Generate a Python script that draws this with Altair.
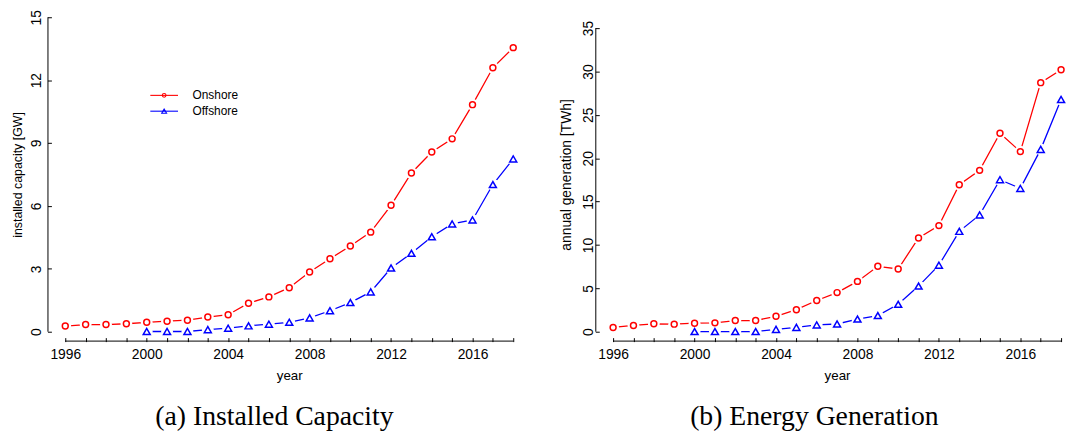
import altair as alt
import pandas as pd

# Series names and colours
SERIES = ["Onshore", "Offshore"]
COLORS = ["#ff0000", "#0000ff"]
SHAPES = ["circle", "triangle-up"]

years = list(range(1996, 2019))
offshore_years = list(range(2000, 2019))

# Installed capacity [GW]
capacity_onshore = [0.27, 0.34, 0.34, 0.38, 0.45, 0.50, 0.55, 0.70, 0.81, 1.36,
                    1.66, 2.10, 2.85, 3.48, 4.09, 4.75, 6.03, 7.57, 8.57, 9.20,
                    10.83, 12.59, 13.55]
capacity_offshore = [0.01, 0.01, 0.01, 0.10, 0.17, 0.28, 0.36, 0.45, 0.66, 1.00,
                     1.39, 1.90, 3.04, 3.74, 4.53, 5.14, 5.33, 7.02, 8.24]

# Annual generation [TWh]
generation_onshore = [0.49, 0.72, 0.91, 0.87, 0.98, 1.02, 1.29, 1.29, 1.78, 2.54,
                      3.60, 4.51, 5.80, 7.54, 7.23, 10.80, 12.23, 16.95, 18.60,
                      22.88, 20.76, 28.71, 30.19]
generation_offshore = [0.02, 0.02, 0.02, 0.02, 0.27, 0.50, 0.78, 0.89, 1.46, 1.86,
                       3.16, 5.26, 7.67, 11.57, 13.46, 17.52, 16.52, 21.02, 26.77]

capacity_ticks = [0, 3, 6, 9, 12, 15]
generation_ticks = [0, 5, 10, 15, 20, 25, 30, 35]

FONT = "Liberation Sans"
SERIF = "Liberation Serif"
PLOT_W = 453
PLOT_H = 318


def long_table(onshore, offshore):
    return pd.concat([
        pd.DataFrame({"year": years, "value": onshore, "series": "Onshore"}),
        pd.DataFrame({"year": offshore_years, "value": offshore, "series": "Offshore"}),
    ], ignore_index=True)


def panel(df, y_top, y_ticks, y_title, y_title_size, y_label_pad, y_title_pad,
          caption, caption_dx, with_legend=False):
    x_enc = alt.X(
        "year:Q",
        scale=alt.Scale(domain=[1996, 2018], nice=False, zero=False),
        axis=alt.Axis(values=years, format="d",
                      labelExpr="datum.value % 4 == 0 ? datum.label : ''",
                      domain=False, grid=False, offset=6, tickSize=4,
                      tickColor="black", tickWidth=1,
                      labelFontSize=14, labelPadding=6, labelOverlap=False,
                      labelFlush=False, labelColor="black",
                      title="year", titleFontSize=13.5, titleFontWeight="normal",
                      titleColor="black", titlePadding=7),
    )
    y_enc = alt.Y(
        "value:Q",
        scale=alt.Scale(domain=[0, y_top], nice=False, zero=True),
        axis=alt.Axis(values=y_ticks, format="d", domain=False, grid=False,
                      offset=14, tickSize=4, tickColor="black", tickWidth=1,
                      labelAngle=270, labelAlign="center",
                      labelBaseline="alphabetic", labelPadding=y_label_pad,
                      labelFontSize=14, labelColor="black", labelOverlap=False,
                      labelFlush=False,
                      title=y_title, titleFontSize=y_title_size,
                      titleFontWeight="normal", titleColor="black",
                      titlePadding=y_title_pad),
    )
    color = alt.Color("series:N", scale=alt.Scale(domain=SERIES, range=COLORS), legend=None)
    shape = alt.Shape("series:N", scale=alt.Scale(domain=SERIES, range=SHAPES), legend=None)
    size = alt.Size("series:N", scale=alt.Scale(domain=SERIES, range=[36, 50]), legend=None)

    base = alt.Chart(df)
    lines = base.mark_line(strokeWidth=1.3).encode(x=x_enc, y=y_enc, color=color)
    # white discs open a gap in the line around every marker
    halos = base.mark_circle(color="white", fill="white", opacity=1, size=144).encode(
        x=x_enc, y=y_enc)
    markers = base.mark_point(filled=False, strokeWidth=1.5, opacity=1).encode(
        x=x_enc, y=y_enc, color=color, shape=shape, size=size)

    # axis lines that run only between the first and last tick
    x_line = alt.Chart(pd.DataFrame({"year": [1996], "year_end": [2018]})).mark_rule(
        color="black", strokeWidth=1).encode(
        x=x_enc, x2="year_end", y=alt.value(PLOT_H + 9.5))
    y_line = alt.Chart(pd.DataFrame({"value": [0], "value_end": [y_ticks[-1]]})).mark_rule(
        color="black", strokeWidth=1).encode(
        x=alt.value(-17.5), y=y_enc, y2="value_end")

    layers = [x_line, y_line, lines, halos, markers]

    if with_legend:
        for i, name in enumerate(SERIES):
            row = pd.DataFrame({"series": [name]})
            ypos = 79 + 16 * i
            layers.append(alt.Chart(row).mark_rule(color=COLORS[i], strokeWidth=1.1).encode(
                x=alt.value(86), x2=alt.value(114), y=alt.value(ypos)))
            layers.append(alt.Chart(row).mark_point(
                shape=SHAPES[i], filled=False, color=COLORS[i], opacity=1,
                size=[14, 24][i], strokeWidth=1.1).encode(
                x=alt.value(100), y=alt.value(ypos)))
            layers.append(alt.Chart(row).mark_text(
                align="left", baseline="middle", font=FONT, fontSize=12, color="black").encode(
                x=alt.value(128.7), y=alt.value(ypos), text="series:N"))

    return alt.layer(*layers).properties(
        width=PLOT_W, height=PLOT_H,
        title=alt.TitleParams(caption, orient="bottom", anchor="middle", frame="group",
                              font=SERIF, fontSize=28, fontWeight="normal",
                              color="black", offset=22, dx=caption_dx),
    )


capacity_chart = panel(long_table(capacity_onshore, capacity_offshore), 15,
                       capacity_ticks, "installed capacity [GW]", 12.5, 7, 5,
                       "(a) Installed Capacity", -15, with_legend=True)
generation_chart = panel(long_table(generation_onshore, generation_offshore), 36.25,
                         generation_ticks, "annual generation [TWh]", 14, 3.3, 8,
                         "(b) Energy Generation", -23)

chart = alt.hconcat(capacity_chart, generation_chart, spacing=39).properties(
    padding={"left": 11, "top": 7, "right": 0, "bottom": 0},
).configure_view(stroke=None).configure_axis(labelFont=FONT, titleFont=FONT)

chart.save("out.html", embed_options={"renderer": "svg", "actions": False})
